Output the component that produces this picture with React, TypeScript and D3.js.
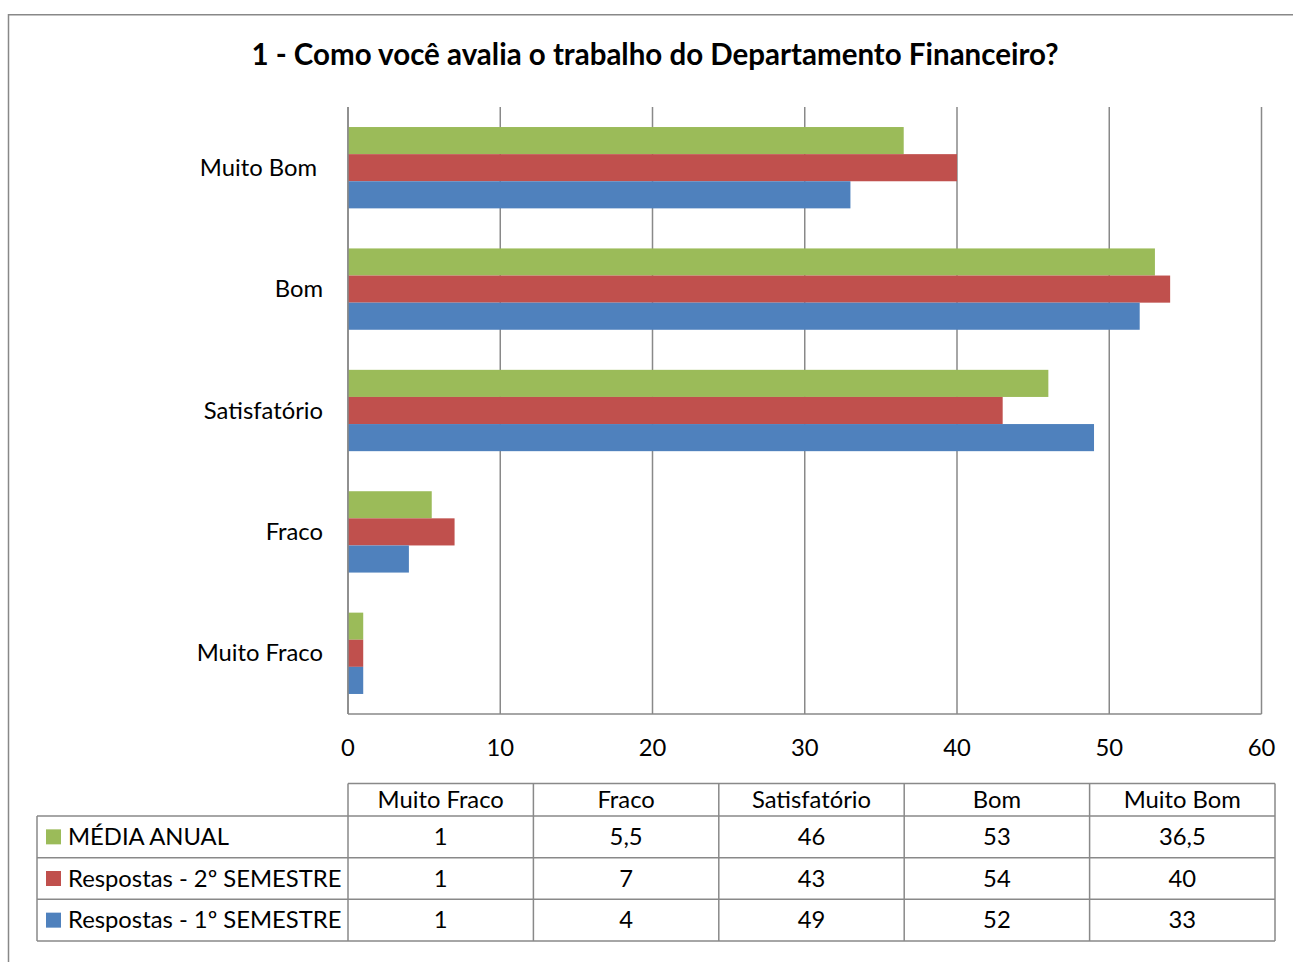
import React from "react";
import * as d3 from "d3";

const categories = ["Muito Fraco", "Fraco", "Satisfatório", "Bom", "Muito Bom"];
const seriesNames = ["MÉDIA ANUAL", "Respostas - 2º SEMESTRE", "Respostas - 1º SEMESTRE"];
const mediaAnual = [1, 5.5, 46, 53, 36.5];
const semestre2 = [1, 7, 43, 54, 40];
const semestre1 = [1, 4, 49, 52, 33];
const seriesColors = ["#9BBB59", "#C0504D", "#4F81BD"];
const xTicks = [0, 10, 20, 30, 40, 50, 60];
const title = "1 - Como você avalia o trabalho do Departamento Financeiro?";

const FONT = "Lato, 'Open Sans', sans-serif";
const FS = 23.8;

export default function App() {
  const W = 1293, H = 962;
  const plot = { left: 348, right: 1261.5, top: 107, bottom: 714 };
  const x = d3.scaleLinear().domain([0, 60]).range([plot.left, plot.right]);
  const catOrderTop = [...categories].reverse();
  const y = d3.scaleBand().domain(catOrderTop).range([plot.top, plot.bottom]).paddingInner(0.33).paddingOuter(0.165);
  const inner = d3.scaleBand().domain(seriesNames).range([0, y.bandwidth()]);
  const seriesValues = [mediaAnual, semestre2, semestre1];
  const fmt = (v: number) => String(v).replace(".", ",");

  // table geometry
  const tLeft = 37, tColStart = 348, tRight = 1275;
  const rowsY = [783.5, 816, 857.7, 899.3, 941];
  const colW = (tRight - tColStart) / categories.length;
  const grid = "#898989";

  return (
    <svg width={W} height={H} style={{ position: "absolute", left: 0, top: 0, background: "#fff" }} fontFamily={FONT}>
      <rect x={0} y={0} width={W} height={H} fill="#fff" />
      {/* outer frame */}
      <path d={`M8.5,${H} V14.7 H${W}`} fill="none" stroke="#888" strokeWidth={1.5} />
      <text x={655} y={57} textAnchor="middle" dominantBaseline="middle" fontSize={29.5} fontWeight="bold" fill="#000">{title}</text>

      {/* gridlines */}
      {xTicks.map((t) => (
        <line key={t} x1={x(t)} x2={x(t)} y1={plot.top} y2={plot.bottom} stroke={grid} strokeWidth={1.5} />
      ))}
      <line x1={plot.left} x2={plot.right} y1={plot.bottom} y2={plot.bottom} stroke={grid} strokeWidth={1.5} />

      {/* bars */}
      {catOrderTop.map((c) => {
        const ci = categories.indexOf(c);
        return seriesNames.map((s, si) => (
          <rect key={c + s} x={x(0)} y={(y(c) as number) + (inner(s) as number)} width={x(seriesValues[si][ci]) - x(0)} height={inner.bandwidth()} fill={seriesColors[si]} />
        ));
      })}
      <line x1={plot.left} x2={plot.left} y1={plot.top} y2={plot.bottom} stroke={grid} strokeWidth={1.5} />

      {/* category labels */}
      {catOrderTop.map((c) => (
        <text key={c} x={c === "Muito Bom" ? 317 : 323} y={(y(c) as number) + y.bandwidth() / 2 + 2} textAnchor="end" dominantBaseline="middle" fontSize={FS} fill="#000">{c}</text>
      ))}

      {/* tick labels */}
      {xTicks.map((t) => (
        <text key={t} x={x(t)} y={750} textAnchor="middle" dominantBaseline="middle" fontSize={FS} fill="#000">{t}</text>
      ))}

      {/* data table */}
      <g stroke={grid} strokeWidth={1.5} fill="none">
        <line x1={tColStart} x2={tRight} y1={rowsY[0]} y2={rowsY[0]} />
        {rowsY.slice(1).map((ry, i) => (
          <line key={i} x1={tLeft} x2={tRight} y1={ry} y2={ry} />
        ))}
        <line x1={tLeft} x2={tLeft} y1={rowsY[1]} y2={rowsY[4]} />
        {categories.map((_, i) => (
          <line key={i} x1={tColStart + i * colW} x2={tColStart + i * colW} y1={rowsY[0]} y2={rowsY[4]} />
        ))}
        <line x1={tRight} x2={tRight} y1={rowsY[0]} y2={rowsY[4]} />
      </g>
      {categories.map((c, i) => (
        <text key={c} x={tColStart + (i + 0.5) * colW} y={(rowsY[0] + rowsY[1]) / 2 + 2} textAnchor="middle" dominantBaseline="middle" fontSize={FS} fill="#000">{c}</text>
      ))}
      {seriesNames.map((s, si) => {
        const cy = (rowsY[si + 1] + rowsY[si + 2]) / 2;
        return (
          <g key={s}>
            <rect x={46} y={cy - 7.5} width={15} height={15} fill={seriesColors[si]} />
            <text x={68} y={cy + 2} dominantBaseline="middle" fontSize={FS} fill="#000">{s}</text>
            {categories.map((c, ci) => (
              <text key={c} x={tColStart + (ci + 0.5) * colW} y={cy + 2} textAnchor="middle" dominantBaseline="middle" fontSize={FS} fill="#000">{fmt(seriesValues[si][ci])}</text>
            ))}
          </g>
        );
      })}
    </svg>
  );
}
